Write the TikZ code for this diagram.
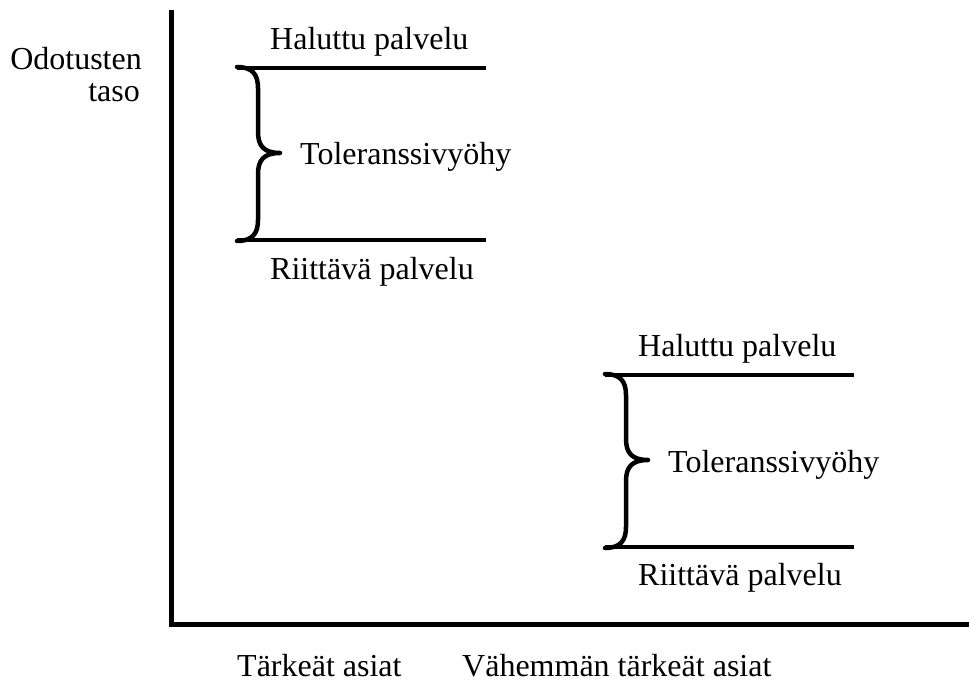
\documentclass[tikz,border=0pt]{standalone}
\usepackage{fontspec}
\setmainfont{Liberation Serif}
\begin{document}
\begin{tikzpicture}[x=1pt,y=-1pt,
  lbl/.style={inner sep=0pt, anchor=base west, font=\fontsize{32}{38}\selectfont},
  axisline/.style={line width=5pt, line join=miter},
  levelline/.style={line width=3.5pt},
  curly/.style={line width=4.5pt, line cap=round, line join=round}]
\useasboundingbox (0,0) rectangle (969,684);
% axes
\coordinate (ytop) at (171.5,10);
\coordinate (origin) at (171.5,624.5);
\coordinate (xend) at (969,624.5);
\draw[axisline] (ytop) -- (origin) -- (xend);
% axis labels
\node[lbl, anchor=base east] (ylab1) at (142,70) {Odotusten};
\node[lbl, anchor=base east] (ylab2) at (140,102) {taso};
\node[lbl] (xlab1) at (237,676) {Tärkeät asiat};
\node[lbl] (xlab2) at (462,676) {Vähemmän tärkeät asiat};
% zone 1
\begin{scope}
  \coordinate (a1) at (237,68); \coordinate (b1) at (486,68);
  \coordinate (c1) at (237,240); \coordinate (d1) at (486,240);
  \draw[levelline] (a1) -- (b1);
  \draw[levelline] (c1) -- (d1);
  \draw[curly] (237,67) .. controls (252,67) and (258,74) .. (258,88) -- (258,132)
    .. controls (258,146) and (264,153) .. (280,153)
    .. controls (264,153) and (258,160) .. (258,174) -- (258,220)
    .. controls (258,234) and (252,241) .. (237,241);
  \node[lbl] (hal1) at (270,50) {Haluttu palvelu};
  \node[lbl] (tol1) at (300,165) {Toleranssivyöhy};
  \node[lbl] (rii1) at (270,280) {Riittävä palvelu};
\end{scope}
% zone 2
\begin{scope}[shift={(368,307)}]
  \coordinate (a2) at (237,68); \coordinate (b2) at (486,68);
  \coordinate (c2) at (237,240); \coordinate (d2) at (486,240);
  \draw[levelline] (a2) -- (b2);
  \draw[levelline] (c2) -- (d2);
  \draw[curly] (237,67) .. controls (252,67) and (258,74) .. (258,88) -- (258,132)
    .. controls (258,146) and (264,153) .. (280,153)
    .. controls (264,153) and (258,160) .. (258,174) -- (258,220)
    .. controls (258,234) and (252,241) .. (237,241);
  \node[lbl] (hal2) at (270,50) {Haluttu palvelu};
  \node[lbl] (tol2) at (300,165) {Toleranssivyöhy};
  \node[lbl] (rii2) at (270,278) {Riittävä palvelu};
\end{scope}
\end{tikzpicture}
\end{document}
